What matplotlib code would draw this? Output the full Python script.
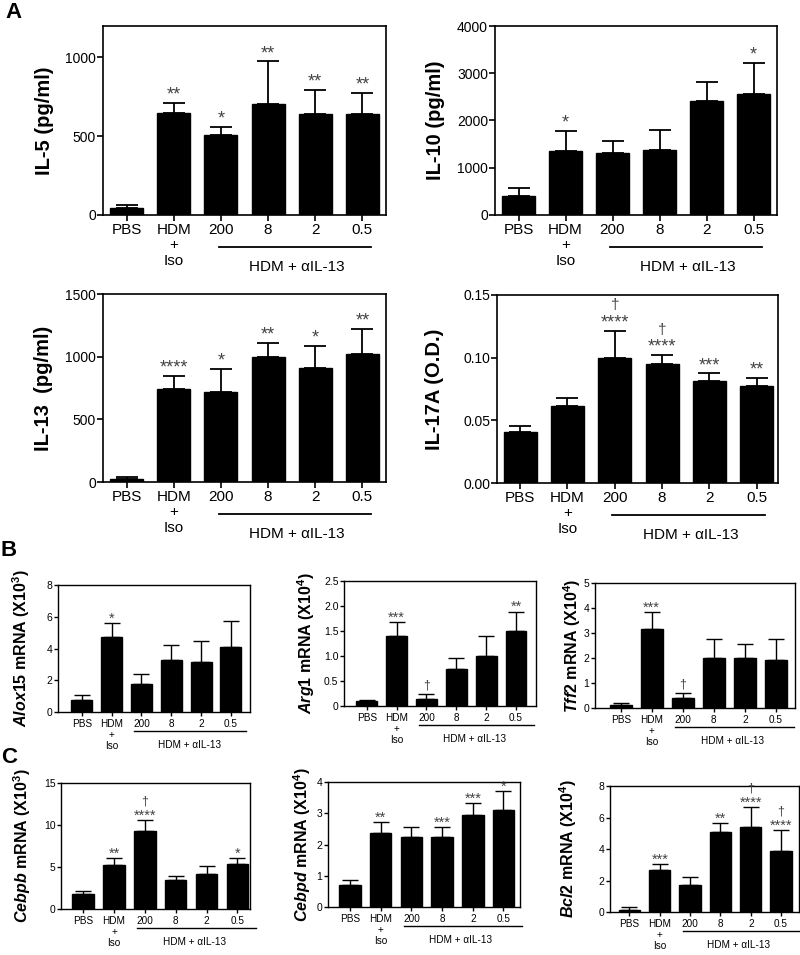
import numpy as np
import matplotlib.pyplot as plt
import matplotlib.transforms as mtransforms

plt.rcParams['font.family'] = ['Liberation Sans', 'DejaVu Sans']
plt.rcParams['mathtext.fontset'] = 'custom'
plt.rcParams['mathtext.rm'] = 'Liberation Sans:bold'
plt.rcParams['mathtext.it'] = 'Liberation Sans:italic:bold'
plt.rcParams['mathtext.bf'] = 'Liberation Sans:bold'

groups = ['PBS', 'HDM\n+\nIso', '200', '8', '2', '0.5']
group_label = 'HDM + \u03b1IL-13'

# panel A - cytokines (mean, upper SEM)
il5_mean = [42, 647, 507, 704, 644, 644]
il5_sem = [22, 66, 51, 271, 151, 130]
il5_stars = ['', '**', '*', '**', '**', '**']
il5_dag = [0, 0, 0, 0, 0, 0]

il10_mean = [400, 1365, 1305, 1378, 2420, 2565]
il10_sem = [180, 413, 268, 421, 405, 660]
il10_stars = ['', '*', '', '', '', '*']
il10_dag = [0, 0, 0, 0, 0, 0]

il13_mean = [21, 741, 720, 1000, 907, 1019]
il13_sem = [19, 104, 184, 109, 176, 200]
il13_stars = ['', '****', '*', '**', '*', '**']
il13_dag = [0, 0, 0, 0, 0, 0]

il17_mean = [0.0408, 0.0617, 0.100, 0.0946, 0.0812, 0.0777]
il17_sem = [0.0048, 0.0061, 0.0215, 0.0073, 0.0062, 0.0059]
il17_stars = ['', '', '****', '****', '***', '**']
il17_dag = [0, 0, 1, 1, 0, 0]

# panel B - mRNA
alox_mean = [0.74, 4.70, 1.76, 3.28, 3.16, 4.11]
alox_sem = [0.32, 0.91, 0.61, 0.94, 1.33, 1.65]
alox_stars = ['', '*', '', '', '', '']
alox_dag = [0, 0, 0, 0, 0, 0]

arg_mean = [0.093, 1.40, 0.14, 0.75, 1.01, 1.51]
arg_sem = [0.027, 0.28, 0.11, 0.22, 0.40, 0.38]
arg_stars = ['', '***', '', '', '', '**']
arg_dag = [0, 0, 1, 0, 0, 0]

tff_mean = [0.13, 3.17, 0.41, 2.01, 2.00, 1.92]
tff_sem = [0.08, 0.67, 0.20, 0.76, 0.56, 0.85]
tff_stars = ['', '***', '', '', '', '']
tff_dag = [0, 0, 1, 0, 0, 0]

# panel C - mRNA
cebpb_mean = [1.75, 5.24, 9.29, 3.45, 4.17, 5.36]
cebpb_sem = [0.43, 0.86, 1.34, 0.48, 0.91, 0.75]
cebpb_stars = ['', '**', '****', '', '', '*']
cebpb_dag = [0, 0, 1, 0, 0, 0]

cebpd_mean = [0.71, 2.36, 2.25, 2.25, 2.94, 3.10]
cebpd_sem = [0.16, 0.35, 0.30, 0.30, 0.40, 0.61]
cebpd_stars = ['', '**', '', '***', '***', '*']
cebpd_dag = [0, 0, 0, 0, 0, 0]

bcl2_mean = [0.15, 2.69, 1.74, 5.08, 5.40, 3.89]
bcl2_sem = [0.17, 0.36, 0.48, 0.57, 1.27, 1.34]
bcl2_stars = ['', '***', '', '**', '****', '****']
bcl2_dag = [0, 0, 0, 0, 1, 1]

W, H = 800, 955
fig = plt.figure(figsize=(W / 100, H / 100), dpi=100)

BIG = dict(tick=10, xtick=11, ylab=14.5, star=13, cap=8, lw=1.3, spine=1.2,
           line_y=-0.17, text_y=-0.275, off=-0.5, ls=1.1, ticklen=4)
SMALL = dict(tick=7.5, xtick=7.2, ylab=11.5, star=10.5, cap=6, lw=1.0, spine=1.0,
             line_y=-0.15, text_y=-0.26, off=-2, ls=1.1, ticklen=3)


def add_ax(left, top, right, bottom):
    return fig.add_axes([left / W, 1 - bottom / H, (right - left) / W, (bottom - top) / H])


def draw_panel(box, mean, sem, stars, dag, ylabel, ylim, yticks, yticklabels,
               xlim, label_x, st, line_x=(1.95, 5.18), text_x=3.6):
    ax = add_ax(*box)
    x = np.arange(len(mean))
    ax.bar(x, mean, width=0.7, color='black', edgecolor='black', zorder=2)
    ax.errorbar(x, mean, yerr=[np.zeros(len(mean)), sem], fmt='none', ecolor='black',
                elinewidth=st['lw'], capsize=st['cap'], capthick=st['lw'], zorder=1)
    for xi, m, s, lab, d in zip(x, mean, sem, stars, dag):
        top = m + s
        if lab:
            ax.annotate(lab, xy=(xi, top), xytext=(0, st['off']), textcoords='offset points',
                        ha='center', va='bottom', fontsize=st['star'], color='#444444')
            if d:
                ax.annotate('\u2020', xy=(xi, top), xytext=(0, st['off'] + 1.05 * st['star']),
                            textcoords='offset points', ha='center', va='bottom',
                            fontsize=st['star'] * 0.85, color='#444444')
        elif d:
            ax.annotate('\u2020', xy=(xi, top), xytext=(0, 1.5), textcoords='offset points',
                        ha='center', va='bottom', fontsize=st['star'] * 0.85, color='#444444')
    ax.set_xlim(*xlim)
    ax.set_ylim(*ylim)
    ax.set_yticks(yticks, yticklabels)
    ax.set_xticks(x, groups)
    ax.tick_params(axis='y', labelsize=st['tick'], width=st['spine'], length=st['ticklen'], pad=1)
    ax.tick_params(axis='x', labelsize=st['xtick'], width=st['spine'], length=st['ticklen'], pad=2)
    for t in ax.get_xticklabels():
        t.set_linespacing(st['ls'])
    for sp in ax.spines.values():
        sp.set_linewidth(st['spine'])
    ax.set_ylabel(ylabel, fontsize=st['ylab'], fontweight='bold')
    ax.yaxis.set_label_coords(label_x, 0.5)
    trans = mtransforms.blended_transform_factory(ax.transData, ax.transAxes)
    ax.plot(list(line_x), [st['line_y']] * 2, transform=trans, color='black',
            lw=st['lw'], clip_on=False)
    ax.text(text_x, st['text_y'], group_label, transform=trans, ha='center', va='center',
            fontsize=st['xtick'])
    return ax


# Panel A
draw_panel((103, 26, 386, 215), il5_mean, il5_sem, il5_stars, il5_dag, 'IL-5 (pg/ml)',
           (0, 1200), [0, 500, 1000], ['0', '500', '1000'], (-0.5, 5.5), -0.173, BIG)
draw_panel((495, 26, 777, 215), il10_mean, il10_sem, il10_stars, il10_dag, 'IL-10 (pg/ml)',
           (0, 4000), [0, 1000, 2000, 3000, 4000], ['0', '1000', '2000', '3000', '4000'],
           (-0.5, 5.5), -0.177, BIG)
draw_panel((103, 294, 386, 482), il13_mean, il13_sem, il13_stars, il13_dag, 'IL-13  (pg/ml)',
           (0, 1500), [0, 500, 1000, 1500], ['0', '500', '1000', '1500'],
           (-0.5, 5.5), -0.177, BIG)
draw_panel((497, 295, 778, 483), il17_mean, il17_sem, il17_stars, il17_dag, 'IL-17A (O.D.)',
           (0, 0.15), [0, 0.05, 0.10, 0.15], ['0.00', '0.05', '0.10', '0.15'],
           (-0.49, 5.45), -0.19, BIG)

# Panel B
draw_panel((58, 585, 250, 712), alox_mean, alox_sem, alox_stars, alox_dag,
           r'$\mathit{Alox15}$ mRNA (X10$^{3}$)', (0, 8), [0, 2, 4, 6, 8],
           ['0', '2', '4', '6', '8'], (-0.8, 5.64), -0.135, SMALL,
           line_x=(1.75, 5.5), text_x=3.6)
draw_panel((344, 581, 536, 706), arg_mean, arg_sem, arg_stars, arg_dag,
           r'$\mathit{Arg1}$ mRNA (X10$^{4}$)', (0, 2.5), [0, 0.5, 1.0, 1.5, 2.0, 2.5],
           ['0', '0.5', '1.0', '1.5', '2.0', '2.5'], (-0.76, 5.67), -0.14, SMALL,
           line_x=(1.75, 5.6), text_x=3.6)
draw_panel((595, 583, 795, 708), tff_mean, tff_sem, tff_stars, tff_dag,
           r'$\mathit{Tff2}$ mRNA (X10$^{4}$)', (0, 5), [0, 1, 2, 3, 4, 5],
           ['0', '1', '2', '3', '4', '5'], (-0.83, 5.62), -0.06, SMALL,
           line_x=(1.75, 5.6), text_x=3.6)

# Panel C
draw_panel((61, 783, 250, 909), cebpb_mean, cebpb_sem, cebpb_stars, cebpb_dag,
           r'$\mathit{Cebpb}$ mRNA (X10$^{3}$)', (0, 15), [0, 5, 10, 15],
           ['0', '5', '10', '15'], (-0.72, 5.41), -0.148, SMALL,
           line_x=(1.75, 5.6), text_x=3.6)
draw_panel((328, 782, 520, 907), cebpd_mean, cebpd_sem, cebpd_stars, cebpd_dag,
           r'$\mathit{Cebpd}$ mRNA (X10$^{4}$)', (0, 4), [0, 1, 2, 3, 4],
           ['0', '1', '2', '3', '4'], (-0.72, 5.54), -0.078, SMALL,
           line_x=(1.75, 5.6), text_x=3.6)
draw_panel((610, 786, 799, 912), bcl2_mean, bcl2_sem, bcl2_stars, bcl2_dag,
           r'$\mathit{Bcl2}$ mRNA (X10$^{4}$)', (0, 8), [0, 2, 4, 6, 8],
           ['0', '2', '4', '6', '8'], (-0.64, 5.59), -0.164, SMALL,
           line_x=(1.75, 5.6), text_x=3.6)

# panel letters
fig.text(13 / W, 1 - 12 / H, 'A', fontsize=16, fontweight='bold', ha='center', va='center')
fig.text(9 / W, 1 - 551 / H, 'B', fontsize=16, fontweight='bold', ha='center', va='center')
fig.text(9 / W, 1 - 757 / H, 'C', fontsize=16, fontweight='bold', ha='center', va='center')

fig.savefig('out.png', dpi=100)
